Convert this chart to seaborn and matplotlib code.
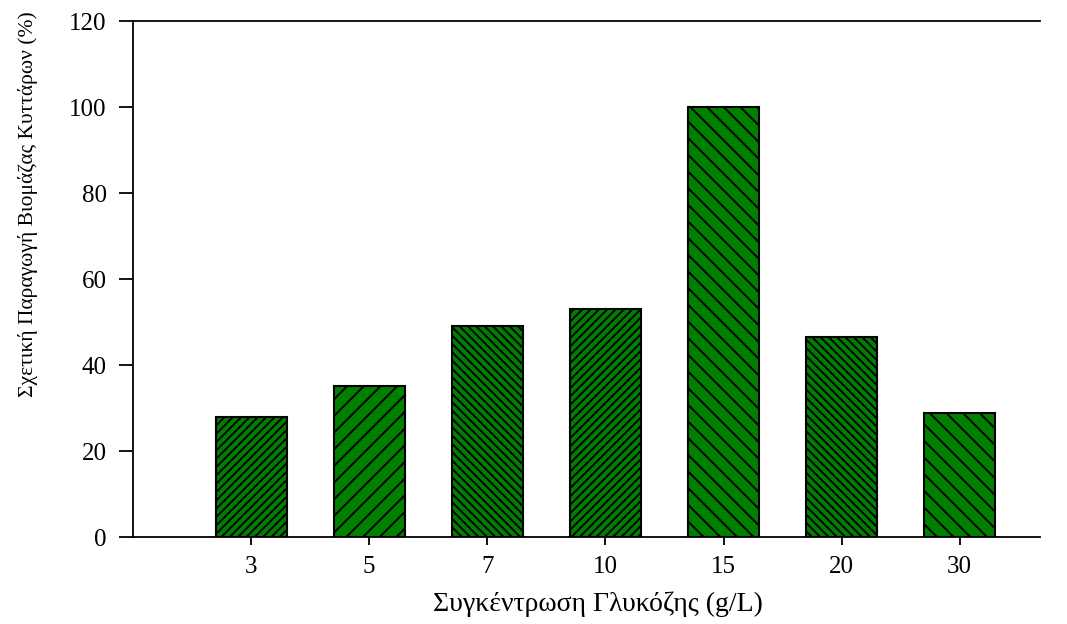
import pandas as pd
import matplotlib
matplotlib.use('Agg')
import matplotlib.pyplot as plt
import seaborn as sns

sns.set_theme(style="ticks")
plt.rcParams['font.family'] = ['Liberation Serif', 'DejaVu Serif']
plt.rcParams['hatch.linewidth'] = 1.4
plt.rcParams['hatch.color'] = 'black'
plt.rcParams['text.color'] = 'black'
plt.rcParams['axes.labelcolor'] = 'black'
plt.rcParams['xtick.color'] = 'black'
plt.rcParams['ytick.color'] = 'black'

# glucose concentration (g/L) and relative biomass production (%)
glucose = ['3', '5', '7', '10', '15', '20', '30']
biomass = [28.0, 35.2, 49.1, 53.0, 100.0, 46.6, 28.8]
hatches = ['////', '//', '\\' * 4, '////', '\\\\', '\\' * 4, '\\\\']

df = pd.DataFrame({'glucose': glucose, 'biomass': biomass})

fig = plt.figure(figsize=(10.67, 6.24), dpi=100)
ax = fig.add_axes([0.1247, 0.1394, 0.85, 0.8269])

sns.barplot(data=df, x='glucose', y='biomass', color='#008000', saturation=1,
            width=0.6, edgecolor='black', linewidth=1.5, ax=ax)

for bar, h in zip(ax.patches, hatches):
    bar.set_hatch(h)

ax.set_xlim(-1.0, 6.68)
ax.set_ylim(0, 120)
ax.set_yticks(range(0, 121, 20))

ax.spines['right'].set_visible(False)
for s in ['left', 'bottom', 'top']:
    ax.spines[s].set_linewidth(1.3)
    ax.spines[s].set_color('black')

ax.tick_params(axis='y', direction='out', length=10, width=1.3, pad=9, labelsize=18)
ax.tick_params(axis='x', direction='out', length=6, width=1.3, pad=8, labelsize=18)

ax.set_xlabel('Συγκέντρωση Γλυκόζης (g/L)', fontsize=20)
ax.set_ylabel('Σχετική Παραγωγή Βιομάζας Κυττάρων (%)', fontsize=15.5)
ax.xaxis.set_label_coords(0.513, -0.105)
ax.yaxis.set_label_coords(-0.105, 0.645)

plt.savefig('out.png', dpi=100)
